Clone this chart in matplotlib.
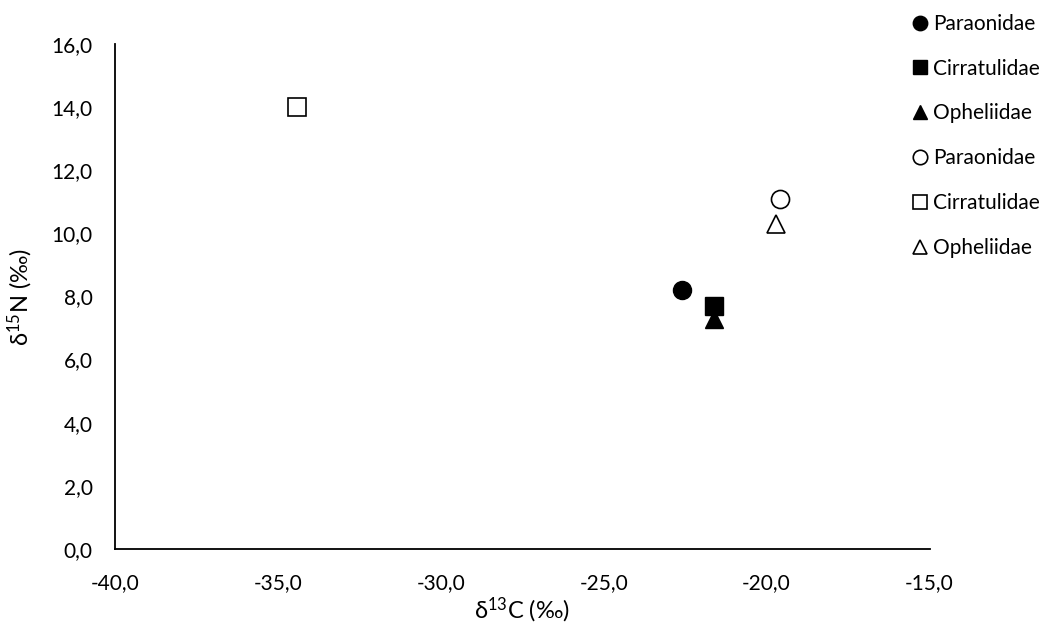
import matplotlib
matplotlib.use("Agg")
import matplotlib.pyplot as plt
from matplotlib.ticker import FuncFormatter, MultipleLocator

plt.rcParams['font.family'] = ['Lato', 'DejaVu Sans']
plt.rcParams['mathtext.default'] = 'regular'

# isotope values per family (filled and open series)
families = ['Paraonidae', 'Cirratulidae', 'Opheliidae']
markers = ['o', 's', '^']
d13c_filled = [-22.6, -21.6, -21.6]
d15n_filled = [8.2, 7.7, 7.3]
d13c_open = [-19.6, -34.4, -19.7]
d15n_open = [11.1, 14.0, 10.3]

fig = plt.figure(figsize=(10.47, 6.29), dpi=100)
ax = fig.add_axes([0.1098, 0.1272, 0.778, 0.803])

for name, m, x, y in zip(families, markers, d13c_filled, d15n_filled):
    ax.plot([x], [y], linestyle='none', marker=m, markersize=13,
            color='black', markerfacecolor='black', label=name)
for name, m, x, y in zip(families, markers, d13c_open, d15n_open):
    ax.plot([x], [y], linestyle='none', marker=m, markersize=13,
            markeredgecolor='black', markerfacecolor='white',
            markeredgewidth=1.2, label=name)

ax.set_xlim(-40, -15)
ax.set_ylim(0, 16)
ax.xaxis.set_major_locator(MultipleLocator(5))
ax.yaxis.set_major_locator(MultipleLocator(2))
fmt = FuncFormatter(lambda v, p: f"{v:.1f}".replace('.', ','))
ax.xaxis.set_major_formatter(fmt)
ax.yaxis.set_major_formatter(fmt)
ax.tick_params(length=0, labelsize=15)
ax.tick_params(axis='x', pad=17)
ax.tick_params(axis='y', pad=16)

for s in ['top', 'right']:
    ax.spines[s].set_visible(False)
for s in ['left', 'bottom']:
    ax.spines[s].set_linewidth(1.3)

ax.set_xlabel('δ$^{13}$C (‰)', fontsize=17, labelpad=2)
ax.set_ylabel('δ$^{15}$N (‰)', fontsize=17, labelpad=12)

fig.legend(*ax.get_legend_handles_labels(), loc='upper left',
           bbox_to_anchor=(914 / 1047, 0.978), frameon=False,
           fontsize=15, markerscale=0.8, handlelength=0.6, handletextpad=0.3,
           labelspacing=1.19, borderaxespad=0, borderpad=0)

fig.savefig('out.png', dpi=100)
